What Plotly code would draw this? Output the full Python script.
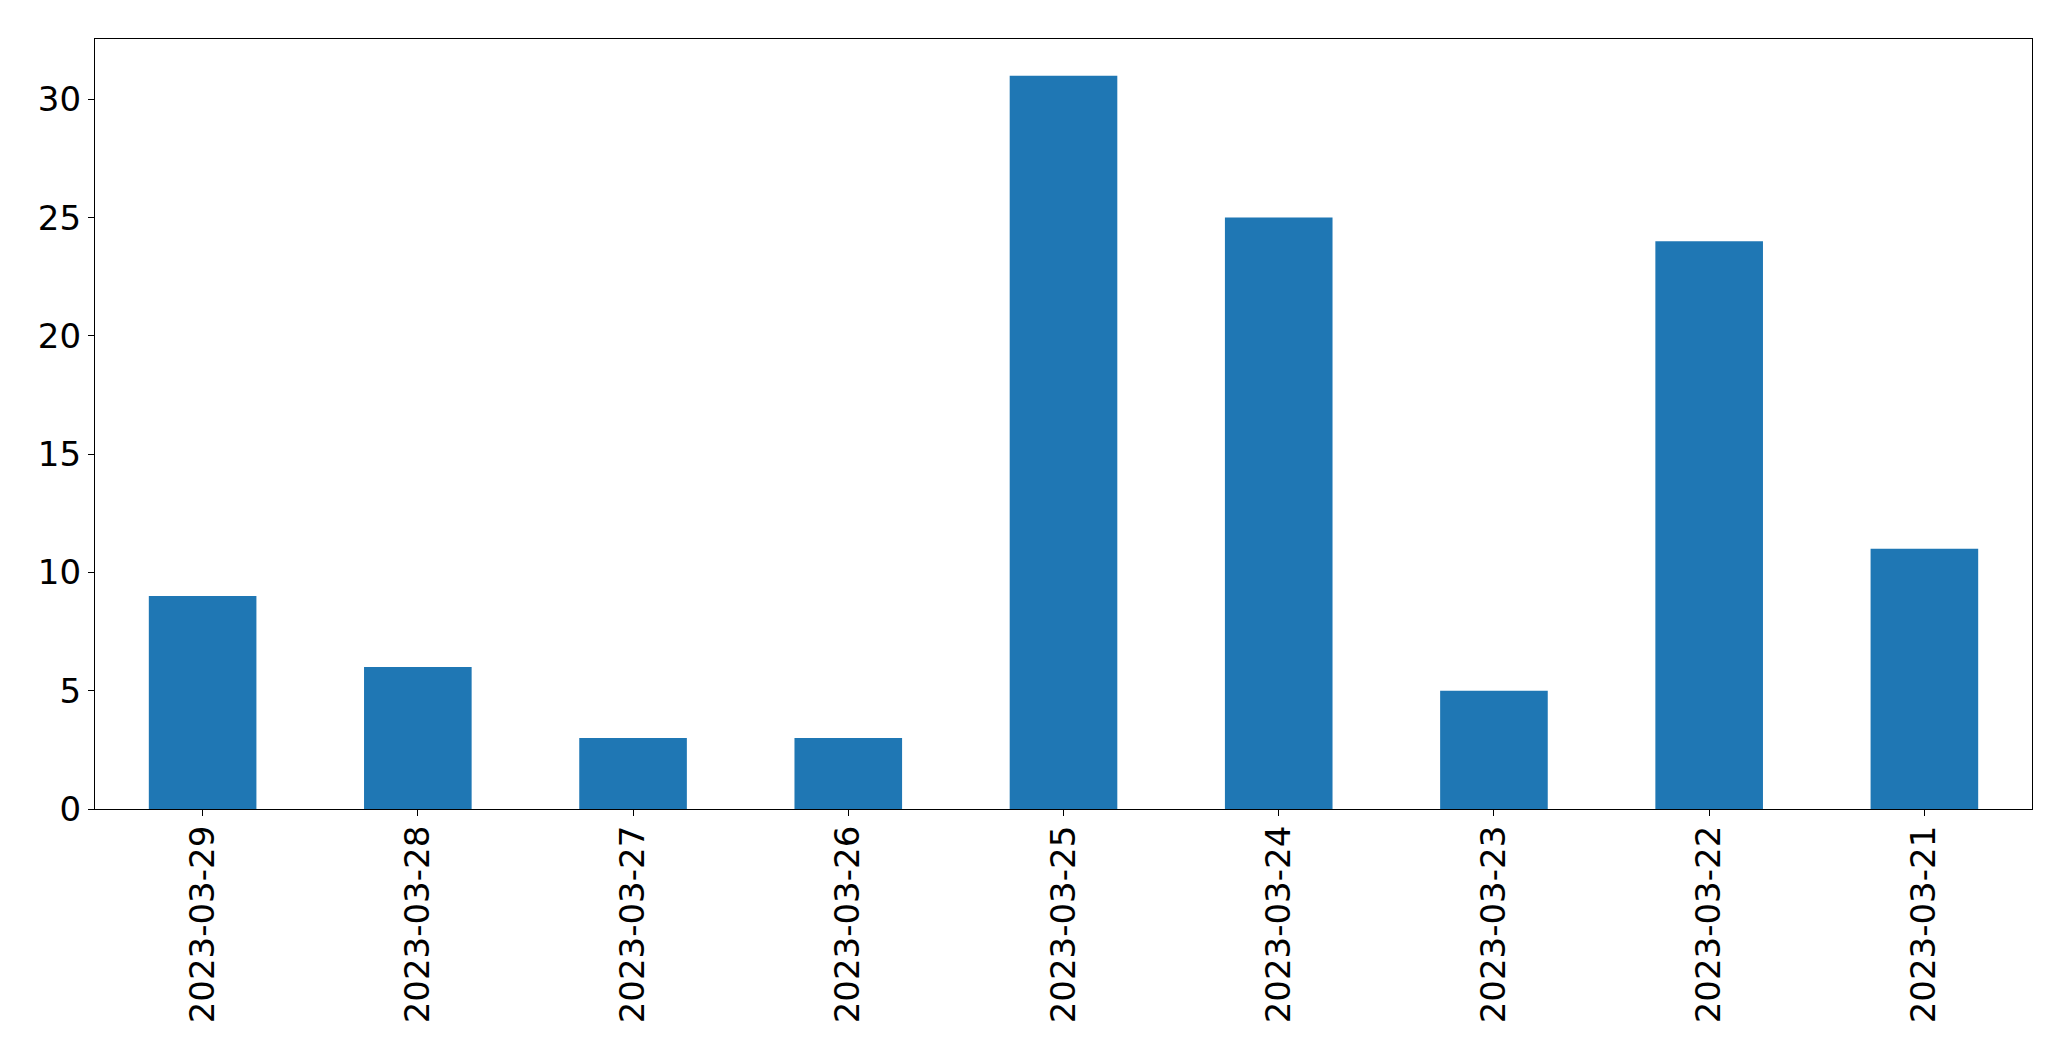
import plotly.graph_objects as go

dates = ["2023-03-29", "2023-03-28", "2023-03-27", "2023-03-26", "2023-03-25",
         "2023-03-24", "2023-03-23", "2023-03-22", "2023-03-21"]
counts = [9, 6, 3, 3, 31, 25, 5, 24, 11]
y_ticks = [0, 5, 10, 15, 20, 25, 30]

fig = go.Figure(go.Bar(x=dates, y=counts, marker=dict(color="#1f77b4", line=dict(width=0)), width=0.5))

font = dict(family="DejaVu Sans", size=34, color="black")
fig.update_layout(
    width=2071, height=1061,
    margin=dict(l=87, r=47, t=31, b=260),
    plot_bgcolor="white", paper_bgcolor="white",
    showlegend=False,
    font=font,
)
fig.update_xaxes(
    type="category", range=[-0.5, len(dates) - 0.5],
    tickangle=-90, ticks="outside", ticklen=6, tickcolor="black", tickwidth=1.3,
    showline=True, linecolor="black", linewidth=1.3, mirror=True,
    showgrid=False, tickfont=font, ticklabelstandoff=-4, automargin=False,
)
fig.update_yaxes(
    range=[0, max(counts) * 1.05], tickvals=y_ticks,
    ticks="outside", ticklen=6, tickcolor="black", tickwidth=1.3,
    showline=True, linecolor="black", linewidth=1.3, mirror=True,
    showgrid=False, zeroline=False, tickfont=font, automargin=False,
)
fig.write_html("out.html")
